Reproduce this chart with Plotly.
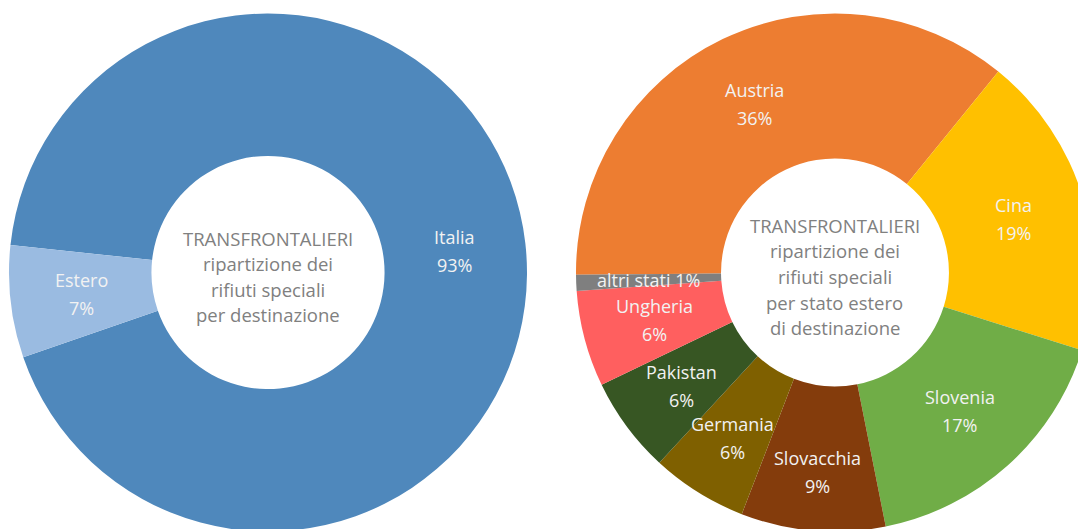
import math
import plotly.graph_objects as go

# ripartizione per destinazione
dest_labels = ['Italia', 'Estero']
dest_values = [93, 7]
dest_colors = ['#4F88BC', '#9ABBE1']

# ripartizione per stato estero
stati_labels = ['Austria', 'Cina', 'Slovenia', 'Slovacchia', 'Germania',
                'Pakistan', 'Ungheria', 'altri stati']
stati_values = [36, 19, 17, 9, 6, 6, 6, 1]
stati_colors = ['#ED7D31', '#FFC000', '#70AD47', '#843C0C', '#7F6000',
                '#375623', '#FF5F5F', '#7F7F7F']

center_left = ['TRANSFRONTALIERI', 'ripartizione dei', 'rifiuti speciali',
               'per destinazione']
center_right = ['TRANSFRONTALIERI', 'ripartizione dei', 'rifiuti speciali',
                'per stato estero', 'di destinazione']

font_name = 'Open Sans'
txt_white = '#F2F2F2'
txt_grey = '#808080'

W, H = 1086, 529
# the page body has an 8px margin, domains are shifted to compensate
dom_left = dict(x=[0.00092, 0.4779], y=[0.0104, 0.9896])
dom_right = dict(x=[0.5230, 1.0], y=[0.0104, 0.9896])
radius = 259
hole_left, hole_right = 0.45, 0.44
rot_left, rot_right = -83.9, -90.5
# some labels sit a bit further out from the ring middle (px)
label_push = {'Slovacchia': 14, 'Germania': 8, 'Pakistan': 4}

fig = go.Figure()
fig.add_trace(go.Pie(
    labels=dest_labels, values=dest_values,
    marker=dict(colors=dest_colors, line=dict(width=0)),
    hole=hole_left, sort=False, direction='clockwise', rotation=rot_left,
    textinfo='none', domain=dom_left, showlegend=False))

fig.add_trace(go.Pie(
    labels=stati_labels, values=stati_values,
    marker=dict(colors=stati_colors, line=dict(width=0)),
    hole=hole_right, sort=False, direction='clockwise', rotation=rot_right,
    textinfo='none', domain=dom_right, showlegend=False))


def slice_labels(labels, values, dom, hole, rotation, single=()):
    cx = sum(dom['x']) / 2
    cy = sum(dom['y']) / 2
    total = float(sum(values))
    start = rotation
    anns = []
    for lab, v in zip(labels, values):
        ang = math.radians(start + 360 * v / total / 2)
        start += 360 * v / total
        r = radius * (1 + hole) / 2 + label_push.get(lab, 0)
        dx = r * math.sin(ang)
        dy = r * math.cos(ang)
        if lab in single:
            lines = [('{} {}%'.format(lab, v), 0)]
        else:
            lines = [(lab, 14), ('{}%'.format(v), -14)]
        for t, off in lines:
            anns.append(dict(text=t, x=cx, y=cy, xref='paper', yref='paper',
                             xshift=dx, yshift=dy + off, showarrow=False,
                             xanchor='center', yanchor='middle',
                             font=dict(family=font_name, size=18, color=txt_white)))
    return anns


def center_text(lines, dom):
    cx = sum(dom['x']) / 2
    cy = sum(dom['y']) / 2
    n = len(lines)
    anns = []
    for i, t in enumerate(lines):
        anns.append(dict(text=t, x=cx, y=cy, xref='paper', yref='paper',
                         yshift=-4 - (i - (n - 1) / 2) * 25.6, showarrow=False,
                         xanchor='center', yanchor='middle',
                         font=dict(family=font_name, size=18.5, color=txt_grey)))
    return anns


annotations = (slice_labels(dest_labels, dest_values, dom_left, hole_left, rot_left)
               + slice_labels(stati_labels, stati_values, dom_right, hole_right,
                              rot_right, single=('altri stati',))
               + center_text(center_left, dom_left)
               + center_text(center_right, dom_right))

fig.update_layout(
    width=W, height=H,
    margin=dict(l=0, r=0, t=0, b=0),
    paper_bgcolor='white',
    annotations=annotations)

fig.write_html("out.html")
